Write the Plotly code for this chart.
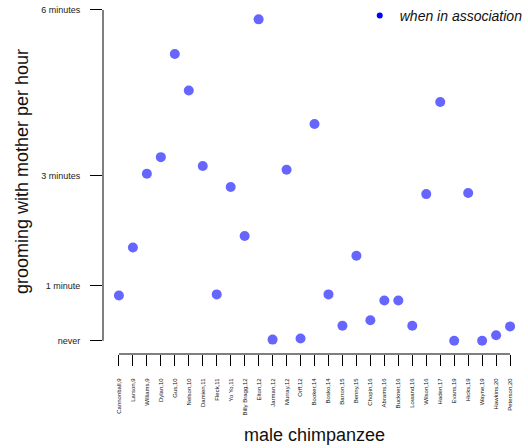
import plotly.graph_objects as go

# ---- data ----
names = ["Cannonball,9", "Larson,9", "Williams,9", "Dylan,10", "Gus,10", "Nelson,10",
         "Damien,11", "Fleck,11", "Yo Yo,11", "Billy Bragg,12", "Elton,12", "Jarman,12",
         "Murray,12", "Orff,12", "Booker,14", "Bosko,14", "Barron,15", "Benny,15",
         "Chopin,16", "Abrams,16", "Buckner,16", "Lowand,16", "Wilson,16", "Haden,17",
         "Evans,19", "Hicks,19", "Wayne,19", "Hawkins,20", "Peterson,20"]
minutes = [0.82, 1.69, 3.03, 3.33, 5.20, 4.54,
           3.17, 0.84, 2.79, 1.90, 5.83, 0.02,
           3.10, 0.04, 3.93, 0.84, 0.27, 1.54,
           0.37, 0.73, 0.73, 0.27, 2.66, 4.33,
           0.00, 2.68, 0.00, 0.10, 0.26]
ytick_vals = [0, 1, 3, 6]
ytick_text = ["never", "1 minute", "3 minutes", "6 minutes"]
legend_label = "when in association"
x_title = "male chimpanzee"
y_title = "grooming with mother per hour"

FONT = "Liberation Sans, Arial, Helvetica, sans-serif"

fig = go.Figure()
fig.add_trace(go.Scatter(
    x=names, y=minutes, mode="markers",
    marker=dict(size=10, color="rgba(0,0,255,0.6)", line=dict(width=0)),
    showlegend=False, cliponaxis=False))
fig.add_trace(go.Scatter(
    x=[None], y=[None], mode="markers", name=legend_label,
    marker=dict(size=6, color="#0000ff", line=dict(width=0)),
    showlegend=True))

n = len(names)
fig.update_layout(
    width=528, height=448,
    margin=dict(l=103, r=0, t=0, b=94, pad=0),
    paper_bgcolor="white", plot_bgcolor="white",
    font=dict(family=FONT, color="#111"),
    xaxis=dict(type="category", range=[-1.14, n - 1 + 1.14],
               showline=False, showgrid=False, zeroline=False,
               ticks="outside", ticklen=11, tickwidth=1, tickcolor="black",
               tickangle=-90, tickfont=dict(size=6, family=FONT, color="#111"),
               ticklabelstandoff=10),
    yaxis=dict(range=[-0.241, 6.181], tickvals=ytick_vals, ticktext=ytick_text,
               showline=False, showgrid=False, zeroline=False,
               ticks="outside", ticklen=12, tickwidth=1, tickcolor="black",
               tickfont=dict(size=9, family=FONT, color="#222"),
               ticklabelstandoff=8),
    legend=dict(x=0.607, y=1, xanchor="left", yanchor="top",
                bgcolor="rgba(0,0,0,0)", borderwidth=0,
                font=dict(size=14, family=FONT, style="italic", color="#111")),
    shapes=[
        dict(type="line", xref="paper", yref="y", x0=0, x1=0,
             y0=min(ytick_vals), y1=max(ytick_vals), line=dict(color="black", width=1)),
        dict(type="line", xref="x", yref="paper", x0=names[0], x1=names[-1],
             y0=0, y1=0, line=dict(color="black", width=1)),
    ],
    annotations=[
        dict(text=x_title, xref="paper", yref="paper", x=0.5, y=0,
             xanchor="center", yanchor="middle", yshift=-81, showarrow=False,
             font=dict(size=18, family=FONT, color="#111")),
        dict(text=y_title, xref="paper", yref="paper", x=0, y=0.5,
             xanchor="center", yanchor="middle", xshift=-81, yshift=5,
             textangle=-90, showarrow=False,
             font=dict(size=18, family=FONT, color="#111")),
    ],
)

fig.write_html("out.html")
